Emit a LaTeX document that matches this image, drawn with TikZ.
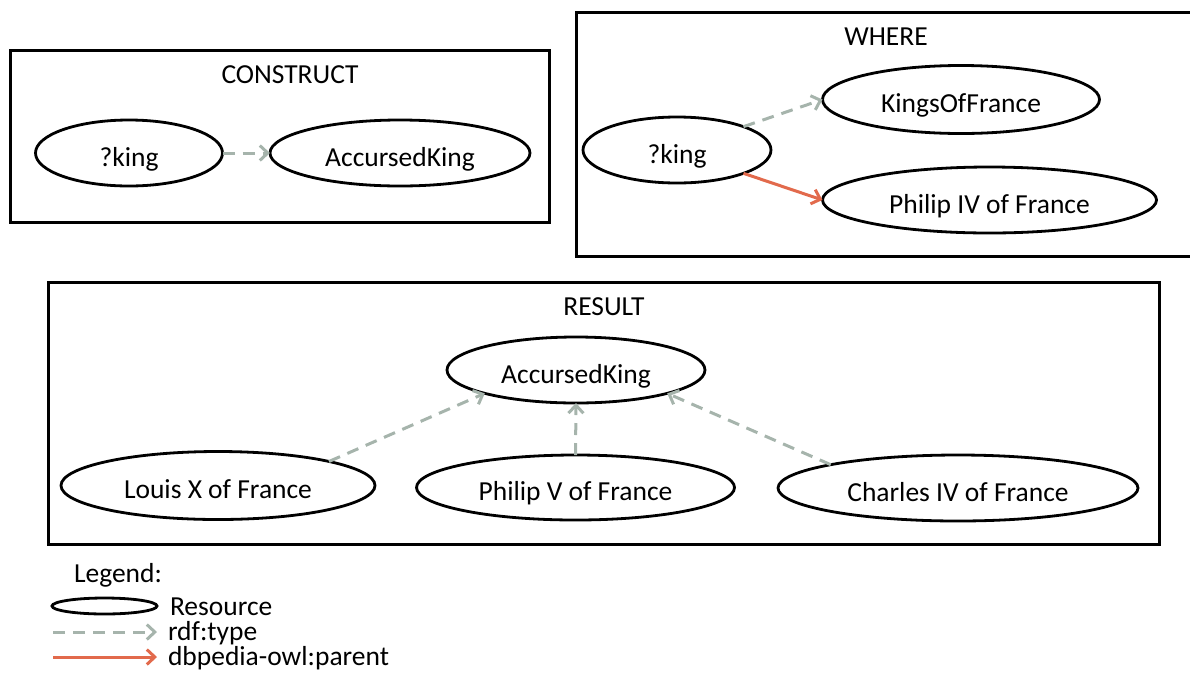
\documentclass[tikz,border=0pt]{standalone}
\usepackage{fontspec}
\setmainfont{Carlito}
\usetikzlibrary{shapes.geometric,arrows.meta}
\definecolor{typegray}{RGB}{166,180,172}
\definecolor{parred}{RGB}{226,106,76}
\tikzset{
  shp/.style={ellipse, draw, line width=2.8pt, inner sep=0pt, outer sep=0pt},
  res/.style={shp, text height=26pt, text depth=0pt},
  frame/.style={draw, line width=3pt},
  lbl/.style={inner sep=0pt, outer sep=0pt},
  typ/.style={draw=typegray, line width=3pt, dash pattern=on 12pt off 8pt,
    -{Straight Barb[length=8pt,width=15pt,line width=3pt]}},
  par/.style={draw=parred, line width=3pt,
    -{Straight Barb[length=8pt,width=15pt,line width=3pt]}},
}
\begin{document}
\begin{tikzpicture}[x=1pt,y=-1pt,font=\fontsize{27.5}{33}\selectfont]
\useasboundingbox (0,0) rectangle (1190,686);
% CONSTRUCT
\draw[frame] (10,50) rectangle (549,222);
\node[lbl, anchor=base] (tc) at (290,83) {CONSTRUCT};
\node[res, minimum width=187pt, minimum height=66pt] (c1) at (129,153) {?king};
\node[res, minimum width=260pt, minimum height=66pt] (c2) at (400,153) {AccursedKing};
\draw[typ] (c1.east) -- (c2.west);
% WHERE
\draw[frame] (1195,12.5) -- (576,12.5) -- (576,256) -- (1195,256);
\node[lbl, anchor=base] (tw) at (886,45) {WHERE};
\node[res, minimum width=188pt, minimum height=66pt] (w1) at (677,150) {?king};
\node[res, minimum width=277pt, minimum height=68pt] (w2) at (961,99.5) {KingsOfFrance};
\node[res, minimum width=334pt, minimum height=66pt] (w3) at (989.5,200) {Philip IV of France};
\draw[typ] (w1.north east) -- (w2.west);
\draw[par] (w1.south east) -- (w3.west);
% RESULT
\draw[frame] (48,282) rectangle (1159,544);
\node[lbl, anchor=base] (tr) at (604,315.5) {RESULT};
\node[res, minimum width=258pt, minimum height=66pt] (r0) at (576,370) {AccursedKing};
\node[res, minimum width=314pt, minimum height=68pt] (r1) at (218,485.5) {Louis X of France};
\node[res, minimum width=318pt, minimum height=65pt] (r2) at (575.5,487.5) {Philip V of France};
\node[res, minimum width=360pt, minimum height=66pt] (r3) at (958,488) {Charles IV of France};
\draw[typ] (r1.north east) -- (r0.south west);
\draw[typ] (r2.north) -- (r0.south);
\draw[typ] (r3.north west) -- (r0.south east);
% Legend
\node[lbl, anchor=base] (lg) at (118,582) {Legend:};
\node[shp, minimum width=105pt, minimum height=16pt] (le) at (104.5,606) {};
\node[lbl, anchor=base west] (lr) at (170,615.5) {Resource};
\coordinate (a1) at (53,632);
\coordinate (b1) at (157,632);
\draw[typ] (a1) -- (b1);
\node[lbl, anchor=base west] (lt) at (168,640) {rdf:type};
\coordinate (a2) at (53,657);
\coordinate (b2) at (157,657);
\draw[par] (a2) -- (b2);
\node[lbl, anchor=base west] (lp) at (168,665) {dbpedia-owl:parent};
\end{tikzpicture}
\end{document}
